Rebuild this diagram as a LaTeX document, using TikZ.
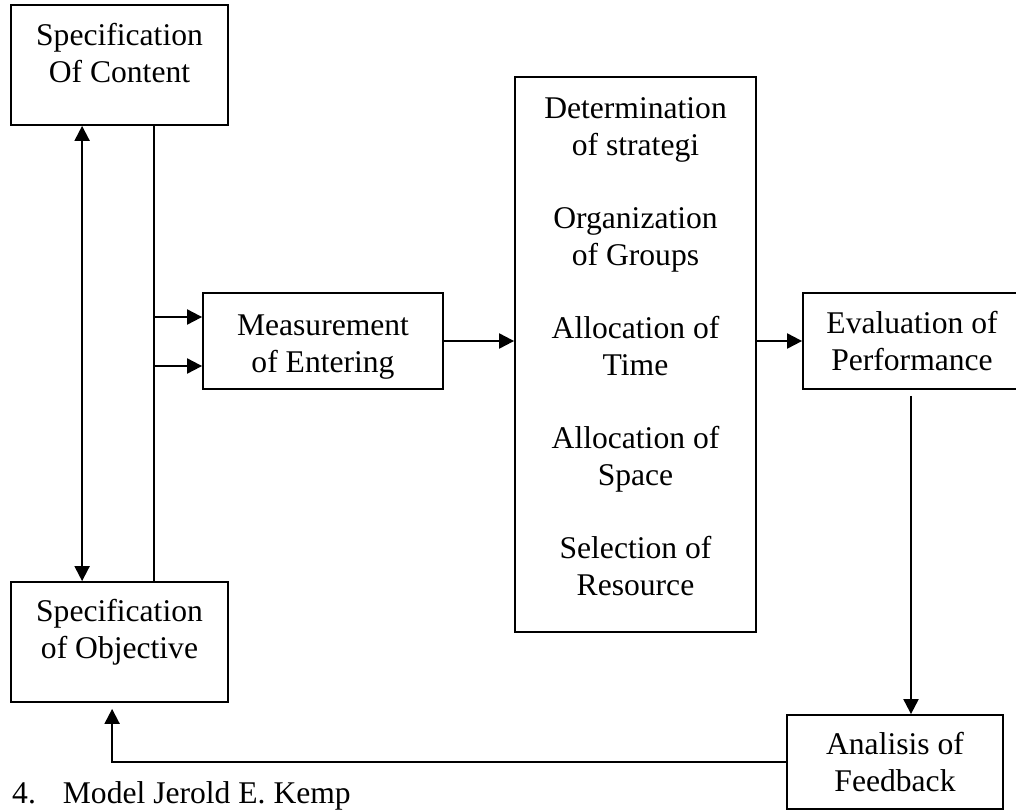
\documentclass[tikz,border=0pt]{standalone}
\usepackage{fontspec}
\setmainfont{Liberation Serif}
\usetikzlibrary{arrows.meta,positioning,calc}

\begin{document}
\begin{tikzpicture}
  [x=1pt,y=-1pt,
   boxN/.style={draw,line width=1.8pt,minimum width=217pt,minimum height=96pt,inner sep=0pt},
   textN/.style={align=center,font=\fontsize{31.6}{37}\selectfont,inner sep=0pt,anchor=base},
   arrN/.style={line width=2pt,-{Triangle[length=15pt,width=15pt]}},
   dblN/.style={line width=2pt,{Triangle[length=15pt,width=15pt]}-{Triangle[length=15pt,width=15pt]}},
   lineN/.style={line width=1.5pt}]

  \useasboundingbox (0,0) rectangle (1016,811);
  \clip (0,0) rectangle (1016,811);

  % boxes (text anchored on the baseline of its last line)
  \node[boxN,minimum height=120pt] (content) at (119.5,65) {};
  \node[textN] (contentT) at (119.5,82) {Specification\\Of Content};
  \node[boxN,minimum height=120pt] (objective) at (119.5,642) {};
  \node[textN] (objectiveT) at (119.5,658) {Specification\\of Objective};
  \node[boxN,minimum width=240pt] (measure) at (323,341) {};
  \node[textN] (measureT) at (323,372) {Measurement\\of Entering};
  \node[boxN,minimum width=241pt,minimum height=555pt] (strategy) at (635.5,354.5) {};
  \foreach \txt [count=\i from 0] in {Determination\\of strategi,Organization\\of Groups,
      Allocation of\\Time,Allocation of\\Space,Selection of\\Resource}
    \node[textN] (strategy\i) at (635.5,155+110*\i) {\txt};
  \node[boxN,minimum width=218pt] (evaluation) at (912,341) {};
  \node[textN] (evaluationT) at (912,370) {Evaluation of\\Performance};
  \node[boxN,minimum width=216pt,minimum height=94pt] (feedback) at (895,762) {};
  \node[textN] (feedbackT) at (895,791) {Analisis of\\Feedback};

  \node[textN,anchor=base west] (caption) at (12,803) {4.\hspace{27pt}Model Jerold E. Kemp};

  % connectors
  \coordinate (evalOut) at ($(evaluation.south)+(-1,6)$);
  \draw[dblN] ($(content.south west)+(72,0)$) -- ($(objective.north west)+(72,0)$);
  \draw[lineN] ($(content.south west)+(144,0)$) -- ($(objective.north west)+(144,0)$);
  \draw[arrN] ($(measure.west)+(-48,-24)$) -- ($(measure.west)+(0,-24)$);
  \draw[arrN] ($(measure.west)+(-48,25)$) -- ($(measure.west)+(0,25)$);
  \draw[arrN] (measure.east) -- (measure.east -| strategy.west);
  \draw[arrN] (strategy.east |- evaluation.west) -- (evaluation.west);
  \draw[arrN] (evalOut) -- (evalOut |- feedback.north);
  \draw[arrN] (feedback.west) -| ($(objective.south west)+(102,6)$);
\end{tikzpicture}
\end{document}
